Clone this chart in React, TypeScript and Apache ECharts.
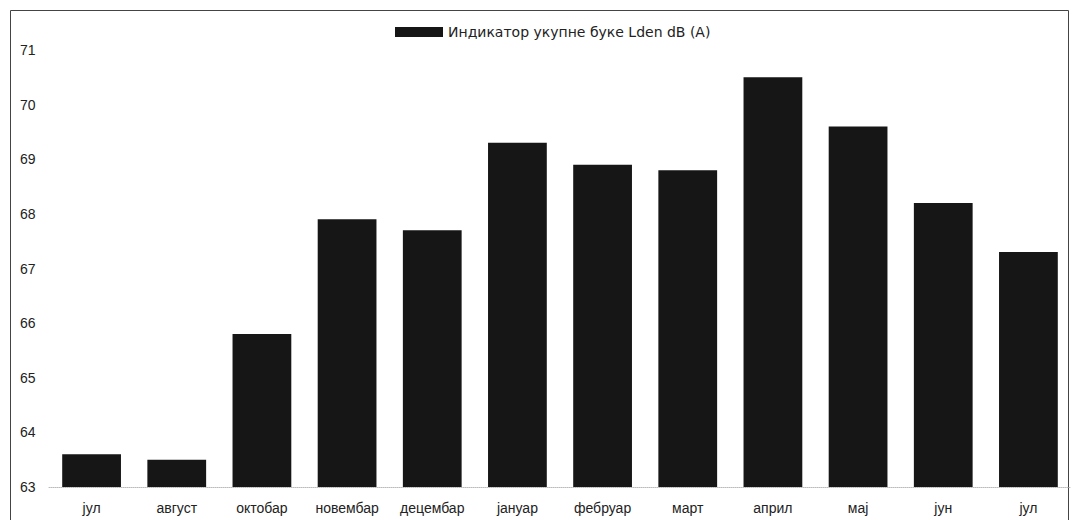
import React, { useEffect, useRef } from "react";
import * as echarts from "echarts";

const categories = ["јул", "август", "октобар", "новембар", "децембар", "јануар", "фебруар", "март", "април", "мај", "јун", "јул"];
const values = [63.6, 63.5, 65.8, 67.9, 67.7, 69.3, 68.9, 68.8, 70.5, 69.6, 68.2, 67.3];
const seriesName = "Индикатор укупне буке Lden dB (A)";

export default function App() {
  const ref = useRef<HTMLDivElement>(null);
  useEffect(() => {
    document.body.style.margin = "0";
    const chart = echarts.init(ref.current!, null, { renderer: "svg" });
    chart.setOption({
      animation: false,
      backgroundColor: "#fff",
      textStyle: { fontFamily: "Liberation Sans, Arial, sans-serif" },
      graphic: [
        {
          type: "rect",
          shape: { x: 10.5, y: 10.5, width: 1058, height: 520 },
          style: { fill: "none", stroke: "#444", lineWidth: 1 },
          silent: true,
        },
      ],
      legend: {
        top: 20,
        left: 390,
        itemWidth: 48,
        itemHeight: 10,
        itemGap: 10,
        icon: "rect",
        textStyle: { fontSize: 14, color: "#222", fontFamily: "DejaVu Sans" },
        data: [seriesName],
      },
      grid: { left: 49, right: 1, top: 50, bottom: 33, containLabel: false },
      xAxis: {
        type: "category",
        data: categories,
        axisLine: { show: true, lineStyle: { color: "#bbb", type: "dotted" } },
        axisTick: { show: false },
        axisLabel: { fontSize: 14, color: "#222", margin: 14 },
      },
      yAxis: {
        type: "value",
        min: 63,
        max: 71,
        interval: 1,
        axisLine: { show: false },
        axisTick: { show: false },
        splitLine: { show: false },
        axisLabel: { fontSize: 14, color: "#222", align: "left", margin: 29 },
      },
      series: [
        {
          name: seriesName,
          type: "bar",
          data: values,
          barCategoryGap: "31%",
          itemStyle: { color: "#161616" },
        },
      ],
    });
    return () => chart.dispose();
  }, []);
  return <div ref={ref} style={{ width: 1072, height: 520 }} />;
}
